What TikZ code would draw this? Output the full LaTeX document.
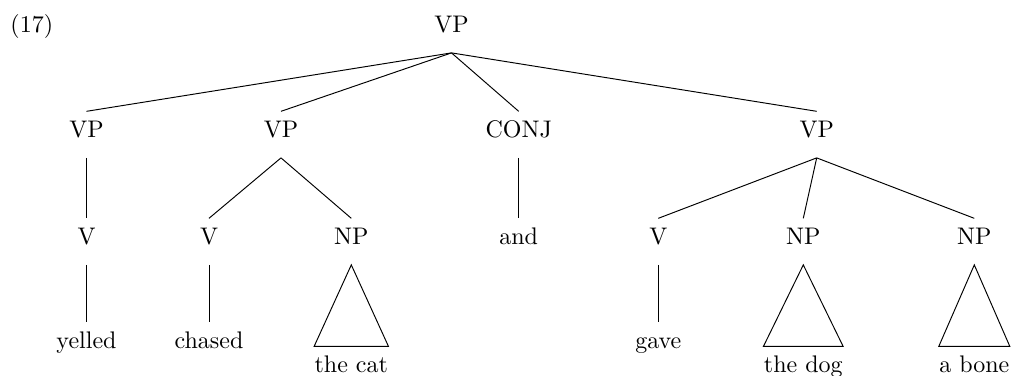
\documentclass[tikz,border=0pt]{standalone}
\begin{document}
\begin{tikzpicture}[x=0.416667pt,y=-0.416667pt,
  lbl/.style={inner sep=0pt,anchor=base,text height=10.5pt,text depth=8.5pt},
  edge/.style={line width=0.4pt}]
\useasboundingbox (0,0) rectangle (1012,375);
% example number
\node[inner sep=0pt,anchor=base west] (num) at (10,32.5) {(17)};
% root
\node[lbl] (root) at (451.5,32) {VP};
% conjuncts
\node[lbl] (vpa) at (86.5,137) {VP};
\node[lbl] (vpb) at (281,137) {VP};
\node[lbl] (conj) at (518.7,137) {CONJ};
\node[lbl] (vpc) at (816.7,137) {VP};
% third row
\node[lbl] (va) at (86.5,244) {V};
\node[lbl] (vb) at (209,244) {V};
\node[lbl] (npa) at (351.3,244) {NP};
\node[lbl] (and) at (518.7,244) {and};
\node[lbl] (vc) at (658.3,244) {V};
\node[lbl] (npb) at (803.3,244) {NP};
\node[lbl] (npc) at (974.3,244) {NP};
% leaves
\node[lbl] (yelled) at (86.5,348) {yelled};
\node[lbl] (chased) at (209,348) {chased};
\node[lbl] (gave) at (658.3,348) {gave};
\node[lbl] (thecat) at (351.3,372) {the cat};
\node[lbl] (thedog) at (803.3,372) {the dog};
\node[lbl] (abone) at (974.3,372) {a bone};
% branches
\foreach \c in {vpa,vpb,conj,vpc} \draw[edge] (root.south) -- (\c.north);
\draw[edge] (vpa.south) -- (va.north);
\draw[edge] (vpb.south) -- (vb.north);
\draw[edge] (vpb.south) -- (npa.north);
\draw[edge] (conj.south) -- (and.north);
\foreach \c in {vc,npb,npc} \draw[edge] (vpc.south) -- (\c.north);
\draw[edge] (va.south) -- (yelled.north);
\draw[edge] (vb.south) -- (chased.north);
\draw[edge] (vc.south) -- (gave.north);
% roofs over phrasal leaves
\draw[edge] (npa.south) -- (thecat.north west) -- (thecat.north east) -- cycle;
\draw[edge] (npb.south) -- (thedog.north west) -- (thedog.north east) -- cycle;
\draw[edge] (npc.south) -- (abone.north west) -- (abone.north east) -- cycle;
\end{tikzpicture}
\end{document}
